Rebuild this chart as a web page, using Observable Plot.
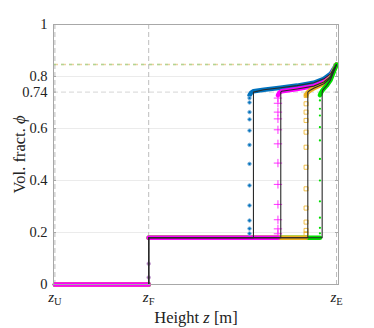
<!DOCTYPE html>
<html><head><meta charset="utf-8">
<script src="https://cdn.jsdelivr.net/npm/d3@7"></script>
<script src="https://cdn.jsdelivr.net/npm/@observablehq/plot@0.6"></script>
<style>
body{margin:0;background:#fff}
svg{display:block}
svg, svg text, svg tspan {font-family: "Liberation Serif", "DejaVu Serif", serif !important;}
</style>
</head><body><div id="chart"></div>
<script>
// ---- data ----
const zU = 0, zF = 0.333, zE = 1;
const phiBottom = 0, phiMid = 0.18, phiJump = 0.74, phiTop = 0.846;
const seriesNames = ["blue", "magenta", "orange", "green"];
const seriesColors = ["#0072BD", "#FF00FF", "#EDB120", "#00E000"];
const jumpZ = [0.705, 0.802, 0.898, 0.949];
const markerZ = [0.691, 0.792, 0.892, 0.941];
const markerPhi = [
  [0.196, 0.215, 0.246, 0.304, 0.381, 0.464, 0.537, 0.592, 0.635, 0.663, 0.70, 0.717],
  [0.195, 0.214, 0.249, 0.308, 0.385, 0.467, 0.541, 0.595, 0.637, 0.663, 0.697, 0.717],
  [0.195, 0.208, 0.24, 0.294, 0.368, 0.451, 0.528, 0.586, 0.631, 0.663, 0.695, 0.727],
  [0.197, 0.218, 0.257, 0.32, 0.40, 0.483, 0.554, 0.605, 0.65, 0.676, 0.708]
];
const upperZ = [
  [0.691, 0.697, 0.705, 0.742, 0.801, 0.860, 0.919, 0.955, 0.979, 1.0],
  [0.792, 0.797, 0.805, 0.830, 0.860, 0.919, 0.955, 0.979, 1.0],
  [0.892, 0.897, 0.905, 0.919, 0.955, 0.979, 1.0],
  [0.941, 0.945, 0.951, 0.965, 0.979, 1.0]
];
const upperPhi = [
  [0.728, 0.738, 0.743, 0.749, 0.757, 0.765, 0.776, 0.791, 0.81, 0.846],
  [0.728, 0.738, 0.743, 0.747, 0.752, 0.763, 0.779, 0.80, 0.846],
  [0.728, 0.738, 0.746, 0.755, 0.772, 0.795, 0.846],
  [0.728, 0.738, 0.748, 0.765, 0.787, 0.846]
];
const startMarkerPhi = [0.027, 0.08];
const yTicks = [0, 0.2, 0.4, 0.6, 0.74, 0.8, 1];
const yGrid = [0.2, 0.4, 0.6, 0.8];
const xTicks = [zU, zF, zE];
const xTickSubs = ["U", "F", "E"];

// ---- build tables ----
const lowerBand = [];
[0, 3, 2, 1].forEach(i => {
  lowerBand.push({s: i, k: i + "a", z: zU, phi: phiBottom}, {s: i, k: i + "a", z: zF, phi: phiBottom});
  lowerBand.push({s: i, k: i + "b", z: zF, phi: phiMid}, {s: i, k: i + "b", z: markerZ[i], phi: phiMid});
});
const upperBand = [];
[0, 1, 2, 3].forEach(i => upperZ[i].forEach((z, j) => upperBand.push({s: i, z, phi: upperPhi[i][j]})));
const markers = [];
[0, 1, 2, 3].forEach(i => markerPhi[i].forEach(p => markers.push({s: i, z: markerZ[i], phi: p})));
const startMarkers = startMarkerPhi.map(p => ({z: zF, phi: p}));
const analytic = [];
[0, 1, 2, 3].forEach(i => {
  const pts = [[zU, phiBottom], [zF, phiBottom], [zF, phiMid], [jumpZ[i], phiMid], [jumpZ[i], phiJump]];
  upperZ[i].forEach((z, j) => { if (z > jumpZ[i]) pts.push([z, upperPhi[i][j]]); });
  pts.forEach(([z, phi]) => analytic.push({s: i, z, phi}));
});
const mk = i => markers.filter(d => d.s === i);

const svg = Plot.plot({
  width: 374, height: 328,
  marginLeft: 53, marginRight: 36, marginTop: 24, marginBottom: 44,
  style: {fontFamily: "'Liberation Serif', serif", fontSize: "14.5px", color: "#222", background: "#fff"},
  x: {domain: [-0.005, 1.007]},
  y: {domain: [0, 1]},
  marks: [
    Plot.ruleY(yGrid, {stroke: "#ebebeb"}),
    Plot.ruleY([phiJump], {stroke: "#d6d6d6", strokeDasharray: "5,3"}),
    Plot.ruleX(xTicks, {stroke: "#bdbdbd", strokeDasharray: "5,3"}),
    Plot.ruleY([phiTop], {stroke: "#E0B060", strokeOpacity: 0.6, strokeDasharray: "5,3", strokeWidth: 1.6}),
    Plot.ruleY([phiTop], {stroke: "#8ad88a", strokeOpacity: 0.6, strokeDasharray: "3,5", strokeWidth: 1.6}),
    Plot.line(lowerBand, {x: "z", y: "phi", z: "k", stroke: d => seriesColors[d.s], strokeWidth: 4.5}),
    Plot.line(upperBand, {x: "z", y: "phi", z: "s", stroke: d => seriesColors[d.s], strokeWidth: 4.5}),
    Plot.dot(mk(0), {x: "z", y: "phi", r: 1.7, fill: seriesColors[0], stroke: "#7fb3da", strokeWidth: 1}),
    Plot.dot(mk(1), {x: "z", y: "phi", symbol: "plus", r: 2.8, stroke: seriesColors[1], strokeWidth: 0.8}),
    Plot.dot(mk(2), {x: "z", y: "phi", symbol: "square", r: 2.3, stroke: seriesColors[2], strokeWidth: 0.8, fill: "none"}),
    Plot.dot(mk(3), {x: "z", y: "phi", r: 1.1, fill: seriesColors[3], stroke: "none"}),
    Plot.dot(startMarkers, {x: "z", y: "phi", r: 1.8, fill: "#9a6fa8", stroke: "#c39ad0", strokeWidth: 0.8}),
    Plot.line(analytic, {x: "z", y: "phi", z: "s", stroke: "#2a2a2a", strokeWidth: 1.1}),
    Plot.frame({stroke: "#a8a8a8"}),
    Plot.axisY(yTicks, {anchor: "left", tickSize: 0, tickPadding: 6, tickFormat: d => String(d), label: "Vol. fract. ϕ", labelAnchor: "center", labelOffset: 40, labelArrow: false, fontSize: 14.5}),
    Plot.ruleY(yTicks, {stroke: "#a8a8a8", insetRight: 282}),
    Plot.ruleY(yTicks, {stroke: "#a8a8a8", insetLeft: 282}),
    Plot.axisX(xTicks, {anchor: "bottom", tickSize: 0, tickPadding: 7, tickFormat: (d, i) => "z" + xTickSubs[i], label: "Height z [m]", labelAnchor: "center", labelOffset: 38, labelArrow: false, fontSize: 15})
  ]
});
document.getElementById("chart").appendChild(svg);

// typographic touches: italic variables and subscripts
d3.select(svg).selectAll('g[aria-label="x-axis tick label"] text').each(function (d, i) {
  const t = d3.select(this);
  t.text(null);
  t.append("tspan").attr("font-style", "italic").text("z");
  t.append("tspan").attr("font-size", 10.5).attr("dy", 3).text(xTickSubs[i]);
});
d3.select(svg).selectAll('g[aria-label="x-axis label"] text').each(function () {
  const t = d3.select(this);
  t.text(null).attr("font-size", 16.5);
  t.append("tspan").text("Height ");
  t.append("tspan").attr("font-style", "italic").text("z");
  t.append("tspan").text(" [m]");
});
d3.select(svg).selectAll('g[aria-label="y-axis label"] text').each(function () {
  const t = d3.select(this);
  t.text(null).attr("font-size", 16.5);
  t.append("tspan").text("Vol. fract. ");
  t.append("tspan").attr("font-style", "italic").text("ϕ");
});
</script>
</body></html>
